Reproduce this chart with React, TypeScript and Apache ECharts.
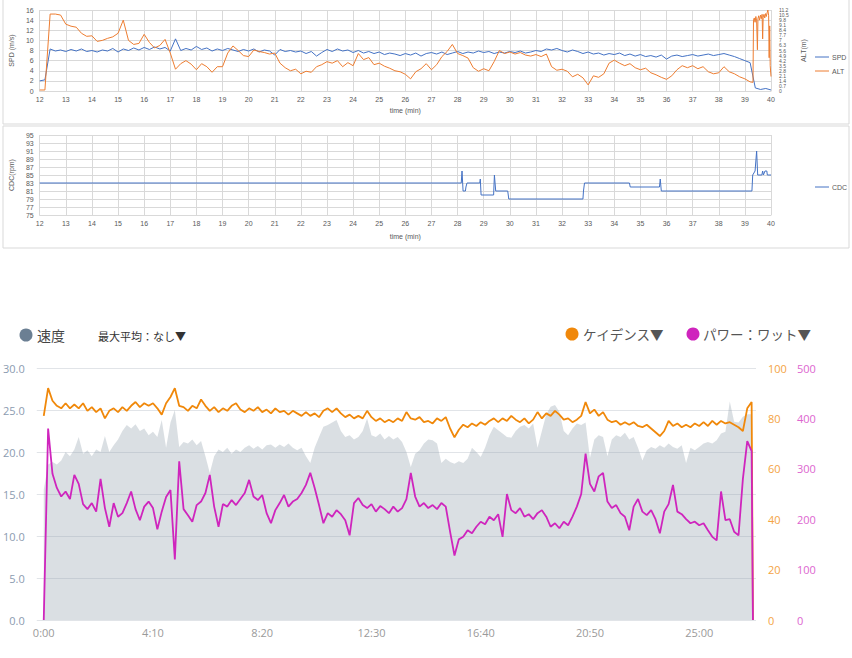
import React, { useEffect, useRef } from 'react';
import * as echarts from 'echarts';

// 上段：SPD / ALT（12〜40分、0.2分刻み）
const topStart = 12;
const topStep = 0.2;
const spdValues = [
  2.0, 2.2, 8.3, 7.9, 8.1, 7.8, 8.2, 7.9, 8.3, 7.8,
  8.0, 7.7, 8.1, 7.9, 8.4, 7.7, 8.3, 8.0, 8.5, 8.1,
  8.6, 8.2, 8.7, 8.3, 8.6, 7.9, 10.3, 8.0, 8.4, 8.1,
  8.8, 8.2, 8.5, 7.9, 8.3, 8.0, 8.4, 8.1, 7.8, 8.2,
  7.9, 8.3, 7.7, 8.1, 7.9, 7.1, 8.2, 7.8, 8.0, 7.7,
  7.9, 7.4, 7.8, 6.9, 7.6, 8.2, 7.8, 8.3, 7.9, 8.1,
  7.6, 8.0, 7.5, 7.8, 7.4, 7.7, 7.2, 7.5, 7.3, 7.0,
  7.4, 7.1, 7.5, 6.9, 7.4, 7.6, 7.3, 7.7, 7.2, 7.5,
  7.8, 7.4, 7.7, 7.5, 7.9, 7.6, 7.8, 7.4, 7.7, 7.5,
  7.8, 7.6, 7.9, 7.5, 7.7, 8.0, 7.8, 8.3, 8.1, 8.4,
  8.0, 7.7, 8.1, 7.8, 7.4, 7.7, 7.3, 7.5, 7.1, 7.4,
  7.2, 7.5, 7.0, 7.3, 6.9, 7.2, 6.8, 7.0, 6.7, 7.1,
  6.3, 6.9, 7.1, 6.8, 7.0, 7.2, 6.9, 7.1, 7.3, 7.0,
  7.2, 7.4, 7.1, 6.8, 6.4, 6.0, 5.6, 0.6, 0.3, 0.5,
  0.2,
];
// ALT(m) 12.0〜39.2分
const altValues = [
  0.14, 0.14, 10.64, 10.64, 10.5, 9.24, 8.96, 8.82, 7.98, 7.56,
  7.63, 6.86, 7.0, 7.28, 7.49, 7.98, 9.8, 7.0, 6.44, 6.58,
  7.84, 6.72, 5.95, 6.3, 7.14, 5.25, 3.01, 3.78, 4.2, 3.71,
  2.94, 3.78, 3.36, 2.59, 3.36, 3.36, 5.25, 6.23, 5.6, 4.9,
  4.76, 5.67, 5.46, 5.32, 5.11, 5.25, 3.85, 3.22, 2.8, 3.01,
  2.38, 2.73, 2.59, 3.36, 3.64, 4.06, 3.85, 4.2, 3.36, 3.92,
  3.5, 5.18, 4.34, 4.62, 3.64, 3.85, 3.43, 3.15, 2.8, 2.66,
  2.31, 1.68, 2.66, 3.08, 3.78, 2.94, 3.64, 4.76, 5.46, 6.44,
  5.18, 4.9, 4.55, 3.22, 2.73, 3.08, 2.8, 4.06, 5.6, 5.18,
  5.39, 5.11, 5.32, 4.97, 4.83, 5.04, 4.76, 5.11, 3.36, 2.87,
  3.01, 2.73, 1.96, 2.31, 1.82, 0.84, 2.1, 1.89, 2.38, 3.85,
  4.27, 3.85, 3.5, 3.78, 3.22, 2.94, 3.15, 2.52, 2.24, 1.89,
  1.61, 2.1, 2.94, 3.5, 3.22, 3.5, 3.08, 3.36, 2.66, 2.38,
  2.52, 3.36, 2.66, 2.38, 1.96, 1.68, 1.26,
];
// 最後の急変部分
const altTailTimes = [39.31, 39.33, 39.36, 39.39, 39.42, 39.45, 39.48, 39.5, 39.53, 39.56, 39.6, 39.63, 39.66, 39.68, 39.7, 39.73, 39.76, 39.79, 39.82, 39.85, 39.88, 39.91, 39.93, 39.95, 39.97, 40];
const altTailValues = [1.2, 9.8, 10.1, 9.5, 10.3, 9.7, 5.7, 10.0, 10.4, 9.8, 10.5, 10.0, 10.6, 7.2, 10.2, 10.6, 10.1, 10.7, 10.3, 10.8, 11.2, 10.4, 4.6, 9.0, 3.5, 2.0];

// 中段：CDC
const cdcTimes = [12, 28.14, 28.17, 28.21, 28.3, 28.32, 28.36, 28.85, 28.87, 28.9, 29.38, 29.41, 29.46, 29.92, 29.96, 32.8, 32.82, 32.86, 34.58, 34.61, 35.73, 35.76, 35.8, 39.27, 39.3, 39.39, 39.45, 39.49, 39.65, 39.68, 39.71, 39.77, 39.84, 39.86, 40];
const cdcValues = [83, 83, 86, 81, 81, 82, 83, 83, 84, 80, 80, 85, 81, 81, 79, 79, 81, 83, 83, 82, 82, 84, 81, 81, 85, 86, 91, 85, 85, 86, 85, 86, 86, 85, 85];
const cdcTicks = [75, 77, 79, 81, 83, 85, 87, 89, 91, 93, 95];

// 下段：速度 / ケイデンス / パワー（10秒刻み）
const rideStep = 10;
const rideEnd = 1623;
const speedValues = [
  15.5, 18.5, 18.8, 18.5, 19, 20, 19.5, 20.3, 21.8, 19.8,
  20.2, 19.5, 20.3, 20, 21.9, 20, 20.8, 21.5, 22.5, 23.2,
  22.8, 23.3, 22.5, 22.8, 22, 22.4, 21.8, 23.8, 20.5, 23.5,
  25, 20.6, 21.2, 21, 21.5, 20.8, 21.3, 19.5, 17.5, 19.5,
  20.3, 20, 20.5, 19.8, 20.3, 20, 20.5, 20.8, 20.4, 20.7,
  20.3, 20.8, 20.9, 20.5, 20.9, 20.6, 21, 20.5, 20.2, 20.5,
  19.5, 18.7, 20.5, 21.8, 23, 23.2, 23.5, 23.8, 22.5, 21.8,
  22, 21.5, 21.8, 22.5, 24, 22, 21.8, 22.2, 21.5, 21.9,
  21.5, 21.8, 21.2, 20, 18.2, 19.8, 20.2, 21, 21.5, 21.4,
  21, 18.7, 19.2, 18.8, 18.6, 18.9, 18.7, 19.2, 20.5, 20,
  19.4, 20.5, 22, 23, 22.6, 22.2, 21.8, 21.7, 22.5, 23,
  23.2, 22.8, 23.4, 20.5, 22.5, 24.5, 25.4, 25.6, 24.8, 22.5,
  22, 22.8, 23.4, 23.2, 23.5, 19.3, 21.5, 22, 21.8, 19.5,
  21.5, 22, 21.8, 22.3, 21.5, 21.8, 20.5, 19, 20.2, 20.6,
  20.4, 20.8, 20.5, 21, 20.6, 20.4, 20.8, 18.7, 20.5, 20.2,
  20.6, 21, 21.2, 21, 21.4, 22.2, 22.4, 26, 23.6, 23.5,
  24.2, 24.5, 24.5,
];
const cadenceValues = [
  81, 92, 87, 85, 84, 86, 84, 85.5, 84, 86,
  83, 84.5, 82.5, 84, 80, 83, 84, 82.5, 84.5, 83,
  85, 86.5, 84.5, 86, 85, 86, 84, 81.5, 86, 88.5,
  92, 85, 84.5, 83, 85, 84, 87.5, 85, 83, 84.5,
  82.5, 84, 83, 85, 86, 83.5, 82.5, 84, 83, 84.5,
  82.5, 83.5, 82, 84, 82.5, 83, 81.5, 83, 82, 81,
  82.5, 81, 82, 80.5, 83, 84, 82.5, 84, 82, 80.5,
  81.5, 80, 81, 80, 83, 80.5, 79, 80, 78.5, 79.5,
  78.5, 80, 79, 82.5, 80, 79.5, 80.5, 78.5, 79, 78,
  80, 79, 80.5, 76, 72.5, 75.5, 77.5, 76.5, 78, 77,
  78.5, 77.5, 79, 80, 78.5, 80, 79, 81, 79.5, 78.5,
  80, 78, 79.5, 82.5, 80, 82, 81, 83, 81.5, 79.5,
  80, 78.5, 79.5, 81, 86.5, 82, 83.5, 81, 82.5, 79.5,
  78.5, 79, 77.5, 78.5, 77.5, 78.5, 77, 76.5, 77.5, 76,
  74.5, 73, 75, 79, 77, 78, 76.5, 77.5, 76.5, 78,
  77, 78.5, 77, 79, 77.5, 79, 78, 78.5, 77.5, 76.5,
  75, 84, 86.5,
];
const powerValues = [
  0, 380, 290, 262, 245, 255, 240, 288, 270, 230,
  220, 232, 215, 280, 222, 185, 232, 205, 212, 232,
  255, 220, 198, 225, 235, 222, 180, 215, 244, 258,
  120, 315, 220, 208, 195, 228, 235, 252, 288, 225,
  185, 230, 225, 238, 228, 240, 252, 278, 245, 238,
  248, 212, 192, 218, 232, 248, 225, 235, 240, 252,
  268, 292, 262, 228, 192, 212, 205, 218, 210, 198,
  168, 232, 242, 228, 222, 230, 215, 226, 220, 212,
  225, 215, 222, 240, 292, 245, 225, 232, 222, 228,
  220, 232, 225, 175, 128, 160, 165, 178, 172, 185,
  195, 190, 205, 198, 210, 165, 250, 218, 212, 222,
  205, 210, 200, 212, 218, 205, 185, 192, 182, 195,
  188, 205, 225, 250, 330, 270, 255, 285, 292, 235,
  222, 228, 212, 205, 178, 225, 240, 215, 208, 218,
  200, 172, 215, 230, 268, 215, 210, 200, 192, 195,
  188, 192, 178, 165, 158, 255, 198, 200, 175, 168,
  280, 355, 335,
];
const rideTickSeconds = [0, 250, 500, 750, 1000, 1250, 1500];

const excelFont = 'Liberation Sans';
const webFont = 'Open Sans';
const jpFont = 'Noto Sans CJK JP';

const fmtClock = (v: number) => `${Math.floor(v / 60)}:${String(v % 60).padStart(2, '0')}`;

const rideSeries = (values: number[], endValue: number) => {
  const pts = values.map((v, i) => [i * rideStep, v]);
  pts.push([rideEnd, endValue]);
  return pts;
};

const App: React.FC = () => {
  const chartRef = useRef<HTMLDivElement>(null);

  useEffect(() => {
    if (!chartRef.current) return;
    const chart = echarts.init(chartRef.current, undefined, { renderer: 'svg' });

    const spdData = spdValues.map((v, i) => [+(topStart + i * topStep).toFixed(2), v]);
    const altData = altValues.map((v, i) => [+(topStart + i * topStep).toFixed(2), v]);
    altTailTimes.forEach((t, i) => altData.push([t, altTailValues[i]]));
    const cdcData = cdcTimes.map((t, i) => [t, cdcValues[i]]);

    const excelLabel = { fontSize: 7, color: '#595959', fontFamily: excelFont };
    const excelGrid = { show: true, lineStyle: { color: '#d9d9d9', width: 1 } };

    const option: any = {
      animation: false,
      textStyle: { fontFamily: excelFont },
      grid: [
        { left: 39, top: 10, width: 732, height: 81 },
        { left: 39, top: 135, width: 732, height: 80 },
        { left: 36, top: 368, width: 720, height: 252 },
      ],
      xAxis: [
        {
          gridIndex: 0, type: 'value', min: 12, max: 40, interval: 1,
          name: 'time (min)', nameLocation: 'middle', nameGap: 16,
          nameTextStyle: { ...excelLabel },
          axisLabel: { ...excelLabel, margin: 5 },
          axisTick: { show: false },
          axisLine: { show: true, lineStyle: { color: '#d9d9d9' } },
          splitLine: excelGrid,
        },
        {
          gridIndex: 1, type: 'value', min: 12, max: 40, interval: 1,
          name: 'time (min)', nameLocation: 'middle', nameGap: 18,
          nameTextStyle: { ...excelLabel },
          axisLabel: { ...excelLabel, margin: 5 },
          axisTick: { show: false },
          axisLine: { show: true, lineStyle: { color: '#d9d9d9' } },
          splitLine: excelGrid,
        },
        {
          gridIndex: 2, type: 'value', min: -16, max: 1630,
          axisLabel: {
            customValues: rideTickSeconds,
            formatter: (v: number) => fmtClock(v),
            fontSize: 11, color: '#9a9a9a', fontFamily: webFont, margin: 7,
          },
          axisTick: { show: false },
          axisLine: { show: false },
          splitLine: { show: false },
        },
      ],
      yAxis: [
        {
          gridIndex: 0, type: 'value', min: 0, max: 16, interval: 2,
          name: 'SPD (m/s)', nameLocation: 'middle', nameRotate: 90, nameGap: 16,
          nameTextStyle: { ...excelLabel },
          axisLabel: { ...excelLabel, margin: 6 },
          axisTick: { show: false },
          axisLine: { show: false },
          splitLine: excelGrid,
        },
        {
          gridIndex: 0, type: 'value', position: 'right', min: 0, max: 11.2, interval: 0.7,
          name: 'ALT(m)', nameLocation: 'middle', nameRotate: 90, nameGap: 25,
          nameTextStyle: { ...excelLabel },
          axisLabel: {
            ...excelLabel, fontSize: 5, lineHeight: 5, margin: 8,
            formatter: (v: number) => String(Math.round(v * 10) / 10),
          },
          axisTick: { show: false },
          axisLine: { show: false },
          splitLine: { show: false },
        },
        {
          gridIndex: 1, type: 'value', min: 75, max: 95,
          name: 'CDC(rpm)', nameLocation: 'middle', nameRotate: 90, nameGap: 16,
          nameTextStyle: { ...excelLabel },
          axisLabel: { ...excelLabel, margin: 6, customValues: cdcTicks },
          axisTick: { show: false, customValues: cdcTicks },
          axisLine: { show: false },
          splitLine: excelGrid,
        },
        {
          gridIndex: 2, type: 'value', min: 0, max: 30, interval: 5,
          axisLabel: {
            formatter: (v: number) => v.toFixed(1),
            fontSize: 11, color: '#8b9bb0', fontFamily: webFont, margin: 12,
          },
          axisTick: { show: false },
          axisLine: { show: false },
          splitLine: { show: true, lineStyle: { color: '#e1e4e8', width: 1 } },
        },
        {
          gridIndex: 2, type: 'value', position: 'right', min: 0, max: 100, interval: 20,
          axisLabel: { fontSize: 11, color: '#f4a444', fontFamily: webFont, margin: 12 },
          axisTick: { show: false },
          axisLine: { show: false },
          splitLine: { show: false },
        },
        {
          gridIndex: 2, type: 'value', position: 'right', offset: 29, min: 0, max: 500, interval: 100,
          axisLabel: { fontSize: 11, color: '#dd66cf', fontFamily: webFont, margin: 12 },
          axisTick: { show: false },
          axisLine: { show: false },
          splitLine: { show: false },
        },
      ],
      series: [
        {
          name: 'SPD', type: 'line', xAxisIndex: 0, yAxisIndex: 0, data: spdData,
          showSymbol: false, lineStyle: { color: '#4472c4', width: 1 }, itemStyle: { color: '#4472c4' },
        },
        {
          name: 'ALT', type: 'line', xAxisIndex: 0, yAxisIndex: 1, data: altData,
          showSymbol: false, lineStyle: { color: '#ed7d31', width: 1 }, itemStyle: { color: '#ed7d31' },
        },
        {
          name: 'CDC', type: 'line', xAxisIndex: 1, yAxisIndex: 2, data: cdcData,
          showSymbol: false, lineStyle: { color: '#4472c4', width: 1 }, itemStyle: { color: '#4472c4' },
        },
        {
          name: '速度', type: 'line', xAxisIndex: 2, yAxisIndex: 3, data: rideSeries(speedValues, 0),
          showSymbol: false, lineStyle: { width: 0, opacity: 0 },
          areaStyle: { color: 'rgba(150,163,176,0.35)', opacity: 1 },
          itemStyle: { color: '#6b7f93' },
        },
        {
          name: 'ケイデンス', type: 'line', xAxisIndex: 2, yAxisIndex: 4, data: rideSeries(cadenceValues, 0),
          showSymbol: false, lineStyle: { color: '#f0880a', width: 1.8 }, itemStyle: { color: '#f0880a' },
        },
        {
          name: 'パワー', type: 'line', xAxisIndex: 2, yAxisIndex: 5, data: rideSeries(powerValues, 0),
          showSymbol: false, lineStyle: { color: '#cf25bd', width: 1.8 }, itemStyle: { color: '#cf25bd' },
        },
      ],
      graphic: [
        // Excelの枠
        { type: 'rect', shape: { x: 3, y: -1, width: 846, height: 125 }, style: { fill: 'none', stroke: '#d9d9d9', lineWidth: 1 } },
        { type: 'rect', shape: { x: 3, y: 126, width: 846, height: 122 }, style: { fill: 'none', stroke: '#d9d9d9', lineWidth: 1 } },
        // Excel凡例
        { type: 'line', shape: { x1: 815, y1: 57, x2: 829, y2: 57 }, style: { stroke: '#4472c4', lineWidth: 1 } },
        { type: 'text', x: 832, y: 57, style: { text: 'SPD', fontSize: 7, fill: '#595959', fontFamily: excelFont, verticalAlign: 'middle' } },
        { type: 'line', shape: { x1: 815, y1: 71, x2: 829, y2: 71 }, style: { stroke: '#ed7d31', lineWidth: 1 } },
        { type: 'text', x: 832, y: 71, style: { text: 'ALT', fontSize: 7, fill: '#595959', fontFamily: excelFont, verticalAlign: 'middle' } },
        { type: 'line', shape: { x1: 815, y1: 187, x2: 829, y2: 187 }, style: { stroke: '#4472c4', lineWidth: 1 } },
        { type: 'text', x: 832, y: 187, style: { text: 'CDC', fontSize: 7, fill: '#595959', fontFamily: excelFont, verticalAlign: 'middle' } },
        // 下段の凡例
        { type: 'circle', shape: { cx: 26, cy: 335, r: 6.5 }, style: { fill: '#6b7f93' } },
        { type: 'text', x: 37, y: 335, style: { text: '速度', fontSize: 14, fill: '#444', fontFamily: jpFont, verticalAlign: 'middle' } },
        { type: 'text', x: 98, y: 336, style: { text: '最大平均：なし▼', fontSize: 11, fill: '#333', fontFamily: jpFont, verticalAlign: 'middle' } },
        { type: 'circle', shape: { cx: 572, cy: 334, r: 6.5 }, style: { fill: '#f0880a' } },
        { type: 'text', x: 583, y: 334, style: { text: 'ケイデンス▼', fontSize: 13.5, fill: '#555', fontFamily: jpFont, verticalAlign: 'middle' } },
        { type: 'circle', shape: { cx: 693, cy: 334, r: 6.5 }, style: { fill: '#cf25bd' } },
        { type: 'text', x: 703, y: 334, style: { text: 'パワー：ワット▼', fontSize: 13.5, fill: '#555', fontFamily: jpFont, verticalAlign: 'middle' } },
      ],
    };

    chart.setOption(option, true);

    return () => {
      chart.dispose();
    };
  }, []);

  return (
    <div
      ref={chartRef}
      style={{ position: 'fixed', left: 0, top: 0, width: 852, height: 658, background: '#fff' }}
    />
  );
};

export default App;
